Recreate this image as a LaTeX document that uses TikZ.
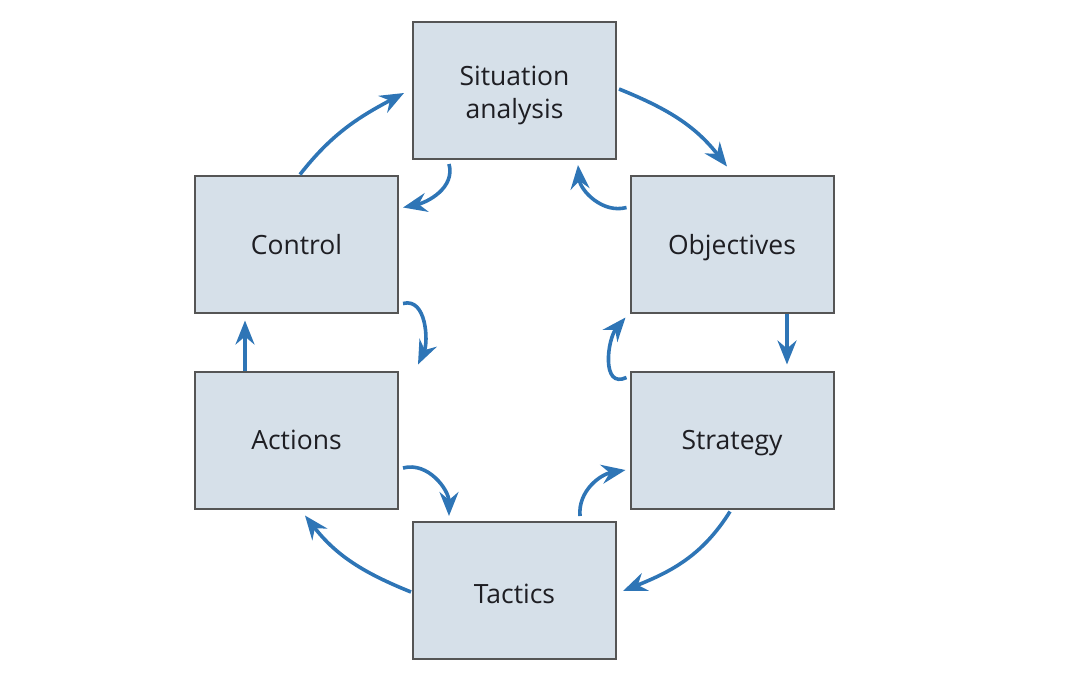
\documentclass[tikz,border=0pt]{standalone}
\usepackage{fontspec}
\setmainfont{Open Sans}
\usetikzlibrary{arrows.meta,calc}
\definecolor{flowblue}{RGB}{46,117,182}
\definecolor{boxfill}{RGB}{214,224,233}
\definecolor{boxline}{RGB}{85,85,85}
\definecolor{txt}{RGB}{30,30,35}
\tikzset{
  stagebox/.style={draw=boxline,line width=2pt,fill=boxfill,minimum width=203pt,minimum height=137pt,
    inner sep=0pt,align=center,text=txt,text depth=0pt,font=\fontsize{26.5}{33}\selectfont},
  flow/.style={draw=flowblue,line width=3.6pt,-{Stealth[length=24pt,width=19pt,inset=8pt]}}
}
\begin{document}
\begin{tikzpicture}[x=1pt,y=1pt]
\useasboundingbox (0,0) rectangle (1091,-683);
\node[stagebox,text height=40pt,text depth=40pt] (sit) at (514.5,-90.5) {\raisebox{-11.6pt}{\begin{tabular}{@{}c@{}}Situation\\analysis\end{tabular}}};
\node[stagebox] (ctrl) at (296.5,-244) {Control};
\node[stagebox] (obj) at (732,-244) {Objectives};
\node[stagebox] (act) at (296.5,-440) {Actions};
\node[stagebox] (str) at (732,-440) {Strategy};
\node[stagebox] (tac) at (514.5,-590.5) {\raisebox{-6pt}{Tactics}};

% outer cycle
\draw[flow] ($(ctrl.north west)+(106,0)$) to[out=52,in=208] ($(sit.west)+(-8,-2.5)$);
\draw[flow] ($(sit.east)+(2,1.5)$) to[out=-22,in=128] ($(obj.north)+(-5,8)$);
\draw[flow] ($(obj.south)+(55,0)$) -- ($(str.north)+(55,6)$);
\draw[flow] ($(str.south)+(-2,-2)$) to[out=-122,in=22] ($(tac.east)+(6,-0.5)$);
\draw[flow] ($(tac.west)+(-1,-1.5)$) to[out=158,in=-52] ($(act.south)+(8.5,-6)$);
\draw[flow] ($(act.north)+(-51.5,0)$) -- ($(ctrl.south)+(-51.5,-7)$);

% inner hooks
\draw[flow] ($(sit.south)+(-65.5,-4)$) to[out=-75,in=12] ($(ctrl.north east)+(4,-33)$);
\draw[flow] ($(obj.north west)+(-3,-33)$) to[out=195,in=-85] ($(sit.south)+(63.5,-5)$);
\draw[flow] ($(ctrl.south east)+(4,10)$) to[out=15,in=65] ($(act.north east)+(19,6)$);
\draw[flow] ($(str.north west)+(-3,-7)$) to[out=205,in=-130,looseness=1.2] ($(obj.south west)+(-4,-4)$);
\draw[flow] ($(act.east)+(4,-28)$) to[out=15,in=90] ($(tac.north west)+(37,5)$);
\draw[flow] ($(tac.north)+(65.5,5)$) to[out=95,in=190] ($(str.west)+(-4,-30)$);
\end{tikzpicture}
\end{document}
